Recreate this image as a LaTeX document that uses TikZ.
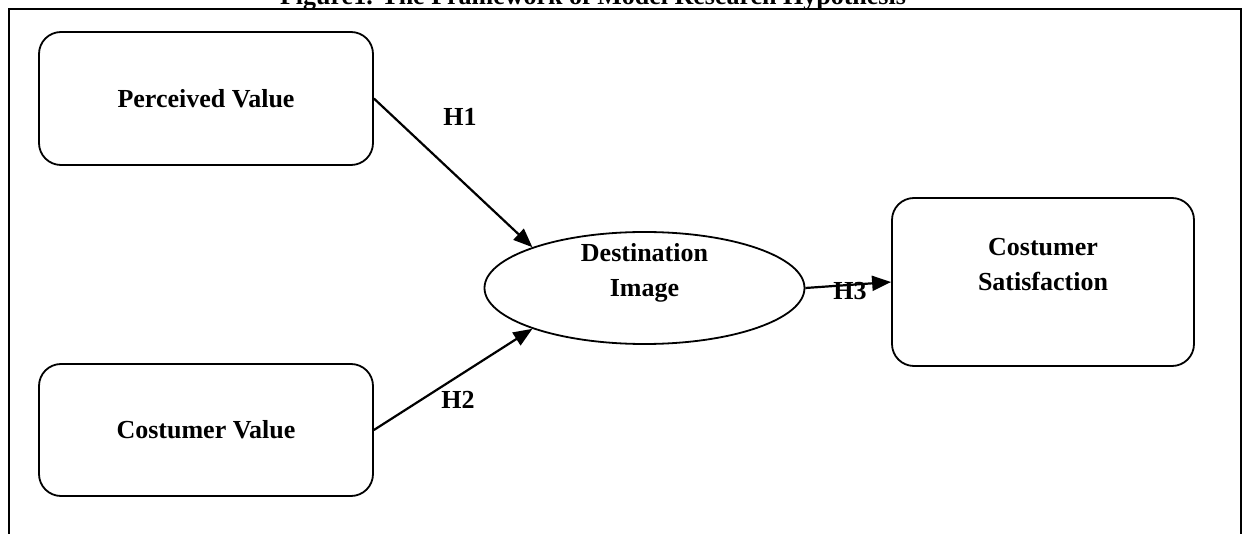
\documentclass[tikz,border=0pt]{standalone}
\usepackage{fontspec}
\setmainfont{Liberation Serif}
\usetikzlibrary{arrows.meta,shapes.geometric}
\begin{document}
\begin{tikzpicture}[x=1pt,y=-1pt,
  every node/.style={font=\fontsize{26}{35}\selectfont\bfseries},
  box/.style={draw,line width=1.8pt,rounded corners=22pt,inner sep=0pt},
  conn/.style={line width=2.2pt,-{Triangle[length=19pt,width=15pt]}},
  lbl/.style={inner sep=0pt,align=center}]
\useasboundingbox (0,0) rectangle (1245,534);
\draw[line width=2.2pt] (9,545) -- (9,9) -- (1241,9) -- (1241,545);
\node[lbl,anchor=base] (title) at (593,5) {Figure1. The Framework of Model Research Hypothesis};
\node[box,minimum width=334pt,minimum height=133pt] (pv) at (206,98.5) {Perceived Value};
\node[box,minimum width=334pt,minimum height=132pt] (cv) at (206,430) {Costumer Value};
\node[box,minimum width=302pt,minimum height=168pt] (cs) at (1043,282) {};
\node[lbl] (cst) at (1043,265) {Costumer\\Satisfaction};
\node[draw,ellipse,line width=1.8pt,minimum width=320pt,minimum height=112pt,inner sep=0pt] (di) at (644.5,288) {};
\node[lbl] (dit) at (644.5,273) {Destination\\Image};
\draw[conn] (pv.east) -- (di.160);
\draw[conn] (cv.east) -- (di.200);
\draw[conn] (di.east) -- (cs.west);
\node[lbl] (h1) at (460,116.5) {H1};
\node[lbl] (h2) at (458,400) {H2};
\node[lbl] (h3) at (850,291) {H3};
\end{tikzpicture}
\end{document}
